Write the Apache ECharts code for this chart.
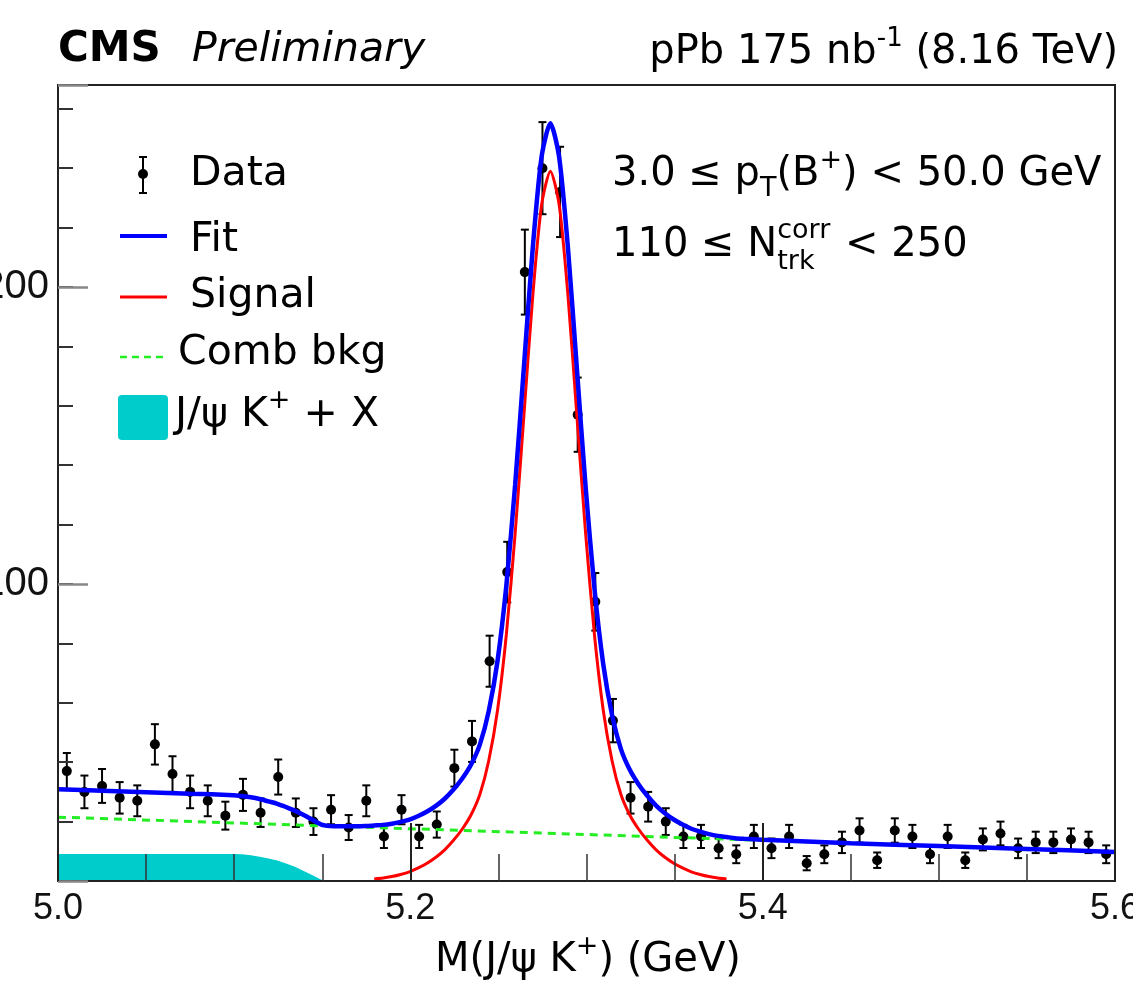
<!DOCTYPE html>
<html>
<head>
<meta charset="utf-8">
<script src="https://cdn.jsdelivr.net/npm/echarts@6.0.0/dist/echarts.min.js"></script>
<style>
  html, body { margin: 0; padding: 0; background: #fff; }
  #chart { width: 1133px; height: 987px; }
</style>
</head>
<body>
<div id="chart"></div>
<script>
const FONT = '"DejaVu Sans", "Liberation Sans", sans-serif';
const TICK_FONT = '"Liberation Sans", Arial, sans-serif';

// data histogram, 10 MeV bins (bin centres)
const dataX = [5.005, 5.015, 5.025, 5.035, 5.045, 5.055, 5.065, 5.075, 5.085, 5.095,
               5.105, 5.115, 5.125, 5.135, 5.145, 5.155, 5.165, 5.175, 5.185, 5.195,
               5.205, 5.215, 5.225, 5.235, 5.245, 5.255, 5.265, 5.275, 5.285, 5.295,
               5.305, 5.315, 5.325, 5.335, 5.345, 5.355, 5.365, 5.375, 5.385, 5.395,
               5.405, 5.415, 5.425, 5.435, 5.445, 5.455, 5.465, 5.475, 5.485, 5.495,
               5.505, 5.515, 5.525, 5.535, 5.545, 5.555, 5.565, 5.575, 5.585, 5.595];
const dataY = [37, 30, 32, 28, 27, 46, 36, 30, 27, 22,
               29, 23, 35, 23, 20, 24, 18, 27, 15, 24,
               15, 19, 38, 47, 74, 104, 205, 240, 232, 157,
               94, 54, 28, 25, 20, 15, 15, 11, 9, 15,
               11, 15, 6, 9, 13, 17, 7, 17, 15, 9,
               15, 7, 14, 16, 11, 13, 13, 14, 13, 9];
const dataErr = [6.1, 5.5, 5.7, 5.3, 5.2, 6.8, 6.0, 5.5, 5.2, 4.7,
                 5.4, 4.8, 5.9, 4.8, 4.5, 4.9, 4.2, 5.2, 3.9, 4.9,
                 3.9, 4.4, 6.2, 6.9, 8.6, 10.2, 14.3, 15.5, 15.2, 12.5,
                 9.7, 7.3, 5.3, 5.0, 4.5, 3.9, 3.9, 3.3, 3.0, 3.9,
                 3.3, 3.9, 2.4, 3.0, 3.6, 4.1, 2.6, 4.1, 3.9, 3.0,
                 3.9, 2.6, 3.7, 4.0, 3.3, 3.6, 3.6, 3.7, 3.6, 3.0];

// signal shape (red), 5 MeV steps
const sigX = [5.1795, 5.1845, 5.1895, 5.1945, 5.1995, 5.2045, 5.2095, 5.2145, 5.2195, 5.2245,
              5.2295, 5.2345, 5.2395, 5.2445, 5.2495, 5.2545, 5.2595, 5.2645, 5.2695, 5.2745,
              5.2795, 5.2845, 5.2895, 5.2945, 5.2995, 5.3045, 5.3095, 5.3145, 5.3195, 5.3245,
              5.3295, 5.3345, 5.3395, 5.3445, 5.3495, 5.3545, 5.3595, 5.3645, 5.3695, 5.3745, 5.3795];
const sigY = [0.7, 1.0, 1.5, 2.2, 3.1, 4.4, 6.0, 8.0, 10.5, 13.7,
              17.5, 22.3, 29.2, 40.5, 57.5, 83.0, 117.0, 157.0, 197.0, 227.6,
              239.0, 227.6, 197.0, 157.0, 117.0, 83.0, 57.5, 40.5, 29.2, 22.3,
              17.5, 13.7, 10.5, 8.0, 6.0, 4.4, 3.1, 2.2, 1.5, 1.0, 0.7];

// total fit (blue)
const fitX = [5.000, 5.025, 5.050, 5.075,
              5.0995, 5.1045, 5.1095, 5.1145, 5.1195, 5.1245, 5.1295, 5.1345, 5.1395, 5.1445,
              5.1495, 5.1545, 5.1595, 5.1645, 5.1695, 5.1745,
              5.1795, 5.1845, 5.1895, 5.1945, 5.1995, 5.2045, 5.2095, 5.2145, 5.2195, 5.2245,
              5.2295, 5.2345, 5.2395, 5.2445, 5.2495, 5.2545, 5.2595, 5.2645, 5.2695, 5.2745,
              5.2795, 5.2845, 5.2895, 5.2945, 5.2995, 5.3045, 5.3095, 5.3145, 5.3195, 5.3245,
              5.3295, 5.3345, 5.3395, 5.3445, 5.3495, 5.3545, 5.3595, 5.3645, 5.3695, 5.3745,
              5.3795, 5.3845, 5.3895, 5.400, 5.450, 5.500, 5.550, 5.600];
const fitY = [30.9, 30.4, 29.9, 29.4,
              28.9, 28.6, 28.2, 27.6, 26.8, 26.0, 24.9, 23.7, 22.2, 20.6,
              19.0, 18.5, 18.4, 18.4, 18.4, 18.5,
              18.7, 18.9, 19.3, 19.9, 20.7, 21.9, 23.4, 25.3, 27.7, 30.8,
              34.5, 39.2, 46.0, 57.2, 74.1, 99.5, 133.4, 173.3, 213.2, 243.8,
              255.1, 243.6, 212.9, 172.8, 132.7, 98.6, 73.0, 55.9, 44.5, 37.5,
              32.6, 28.7, 25.4, 22.8, 20.7, 19.0, 17.6, 16.6, 15.8, 15.2,
              14.8, 14.4, 14.2, 13.9, 12.7, 11.8, 10.8, 9.8];

// combinatorial background (green dashed)
const combX = [5.0, 5.2, 5.4, 5.6];
const combY = [21.5, 17.6, 13.7, 9.8];

// J/psi K+ + X (cyan)
const jpsiX = [5.000, 5.050, 5.0995, 5.1045, 5.1095, 5.1145, 5.1195, 5.1245, 5.1295, 5.1345,
               5.1395, 5.1445, 5.1495, 5.1545];
const jpsiY = [9.1, 9.1, 9.1, 9.0, 8.7, 8.2, 7.6, 6.9, 5.9, 4.8, 3.4, 1.9, 0.4, 0];

const yLabels = [100, 200];

const zip = (xs, ys) => xs.map((x, i) => [x, ys[i]]);

// --- text helpers (sub/superscripts done by hand) ---
const measureCtx = document.createElement('canvas').getContext('2d');
function textWidth(str, size, weight, style) {
  measureCtx.font = (style || 'normal') + ' ' + (weight || 'normal') + ' ' + size + 'px ' + FONT;
  return measureCtx.measureText(str).width;
}
function txt(str, x, y, size, weight, style) {
  return {
    type: 'text', x: x, y: y, z: 100,
    style: {
      text: str, fontSize: size, fontFamily: FONT, fontWeight: weight || 'normal',
      fontStyle: style || 'normal', fill: '#000', align: 'left', verticalAlign: 'middle'
    }
  };
}
function runsWidth(parts) {
  let w = 0;
  parts.forEach(p => {
    if (p.sup !== undefined) w += Math.max(textWidth(p.sup, p.size), textWidth(p.sub, p.size)) + 2;
    else w += textWidth(p.t, p.size);
  });
  return w;
}
function runs(parts, x, y) {
  const out = [];
  let cx = x;
  parts.forEach(p => {
    if (p.sup !== undefined) {
      out.push(txt(p.sup, cx, y - 15, p.size));
      out.push(txt(p.sub, cx, y + 16, p.size));
      cx += Math.max(textWidth(p.sup, p.size), textWidth(p.sub, p.size)) + 2;
    } else {
      out.push(txt(p.t, cx, y + (p.dy || 0), p.size));
      cx += textWidth(p.t, p.size);
    }
  });
  return out;
}

const lumiParts = [{ t: 'pPb 175 nb', size: 40 }, { t: '-1', size: 26, dy: -14 }, { t: ' (8.16 TeV)', size: 40 }];
const ptParts = [{ t: '3.0 \u2264 p', size: 40 }, { t: 'T', size: 27, dy: 14 }, { t: '(B', size: 40 },
                 { t: '+', size: 27, dy: -14 }, { t: ') < 50.0 GeV', size: 40 }];
const ntrkParts = [{ t: '110 \u2264 N', size: 40 }, { sup: 'corr', sub: 'trk', size: 27 }, { t: ' < 250', size: 40 }];
const xTitleParts = [{ t: 'M(J/\u03c8 K', size: 40 }, { t: '+', size: 27, dy: -14 }, { t: ') (GeV)', size: 40 }];
const jpsiLegParts = [{ t: 'J/\u03c8 K', size: 41 }, { t: '+', size: 27, dy: -14 }, { t: ' + X', size: 41 }];

const graphics = [].concat(
  [txt('CMS', 58, 50, 42, 'bold'), txt('Preliminary', 192, 50, 41, 'normal', 'italic')],
  runs(lumiParts, 1118 - runsWidth(lumiParts), 53),
  runs(ptParts, 612, 175),
  runs(ntrkParts, 612, 246),
  runs(xTitleParts, 588 - runsWidth(xTitleParts) / 2, 961),
  // legend
  [
    { type: 'line', z: 100, shape: { x1: 143, y1: 157, x2: 143, y2: 193 }, style: { stroke: '#000', lineWidth: 2 } },
    { type: 'line', z: 100, shape: { x1: 139, y1: 157, x2: 147, y2: 157 }, style: { stroke: '#000', lineWidth: 2 } },
    { type: 'line', z: 100, shape: { x1: 139, y1: 193, x2: 147, y2: 193 }, style: { stroke: '#000', lineWidth: 2 } },
    { type: 'circle', z: 100, shape: { cx: 143, cy: 174, r: 5 }, style: { fill: '#000' } },
    txt('Data', 190, 174, 41),
    { type: 'line', z: 100, shape: { x1: 120, y1: 236, x2: 167, y2: 236 }, style: { stroke: '#0000ff', lineWidth: 4 } },
    txt('Fit', 190, 240, 41),
    { type: 'line', z: 100, shape: { x1: 120, y1: 297, x2: 167, y2: 297 }, style: { stroke: '#ff0000', lineWidth: 3 } },
    txt('Signal', 190, 296, 41),
    { type: 'line', z: 100, shape: { x1: 120, y1: 357, x2: 167, y2: 357 }, style: { stroke: '#22ee22', lineWidth: 2.5, lineDash: [7, 5] } },
    txt('Comb bkg', 178, 353, 41),
    { type: 'rect', z: 100, shape: { x: 118, y: 395, width: 50, height: 45, r: 4 }, style: { fill: '#00cccc' } }
  ],
  runs(jpsiLegParts, 175, 415)
);

const chart = echarts.init(document.getElementById('chart'));

chart.setOption({
  animation: false,
  backgroundColor: '#fff',
  grid: {
    left: 58, right: 18, top: 85, bottom: 106,
    show: true, borderColor: '#222', borderWidth: 2,
    outerBoundsMode: 'none'
  },
  xAxis: {
    type: 'value', min: 5.0, max: 5.6, interval: 0.2, z: 10,
    axisLine: { show: true, lineStyle: { color: '#222', width: 2 } },
    axisTick: { show: true, inside: true, length: 58, lineStyle: { color: '#222', width: 2 } },
    minorTick: { show: true, splitNumber: 4, length: 27, lineStyle: { color: '#333', width: 1.5 } },
    axisLabel: {
      fontFamily: TICK_FONT, fontSize: 36, color: '#111', margin: 10,
      formatter: v => v.toFixed(1)
    },
    splitLine: { show: false }
  },
  yAxis: [
    {
      type: 'value', min: 0, max: 268, interval: 20, z: 10,
      axisLine: { show: true, lineStyle: { color: '#222', width: 2 } },
      axisTick: { show: true, inside: true, length: 15, lineStyle: { color: '#333', width: 2 } },
      axisLabel: {
        fontFamily: TICK_FONT, fontSize: 40, color: '#111', margin: 9,
        formatter: v => (yLabels.indexOf(Math.round(v)) >= 0 && Math.abs(v - Math.round(v)) < 1e-6) ? String(Math.round(v)) : ''
      },
      splitLine: { show: false }
    },
    {
      type: 'value', min: 0, max: 268, interval: 100, position: 'left', z: 10,
      axisLine: { show: false },
      axisTick: { show: true, inside: true, length: 30, lineStyle: { color: '#888', width: 2.5 } },
      axisLabel: { show: false },
      splitLine: { show: false }
    }
  ],
  graphic: graphics,
  series: [
    {
      name: 'J/psi K+ + X', type: 'line', z: 1, silent: true,
      data: zip(jpsiX, jpsiY), symbol: 'none',
      lineStyle: { width: 0, color: '#00cccc' },
      areaStyle: { color: '#00cccc', opacity: 1 }
    },
    {
      name: 'Data', type: 'custom', z: 2, silent: true,
      data: dataX.map((x, i) => [x, dataY[i], dataErr[i]]),
      renderItem: (params, api) => {
        const x = api.value(0), y = api.value(1), e = api.value(2);
        const p = api.coord([x, y]);
        const hi = api.coord([x, y + e]);
        const lo = api.coord([x, Math.max(0, y - e)]);
        const st = { stroke: '#000', lineWidth: 2 };
        return {
          type: 'group',
          children: [
            { type: 'line', shape: { x1: p[0], y1: hi[1], x2: p[0], y2: lo[1] }, style: st },
            { type: 'line', shape: { x1: p[0] - 4, y1: hi[1], x2: p[0] + 4, y2: hi[1] }, style: st },
            { type: 'line', shape: { x1: p[0] - 4, y1: lo[1], x2: p[0] + 4, y2: lo[1] }, style: st },
            { type: 'circle', shape: { cx: p[0], cy: p[1], r: 5 }, style: { fill: '#000' } }
          ]
        };
      }
    },
    {
      name: 'Comb bkg', type: 'line', z: 3, silent: true,
      data: zip(combX, combY), symbol: 'none',
      lineStyle: { color: '#22ee22', width: 3, type: [8, 6] }
    },
    {
      name: 'Signal', type: 'line', z: 4, silent: true,
      data: zip(sigX, sigY), symbol: 'none', smooth: 0.25,
      lineStyle: { color: '#ff0000', width: 3 }
    },
    {
      name: 'Fit', type: 'line', z: 5, silent: true,
      data: zip(fitX, fitY), symbol: 'none', smooth: 0.25,
      lineStyle: { color: '#0000ff', width: 4.5 }
    }
  ]
});
</script>
</body>
</html>
